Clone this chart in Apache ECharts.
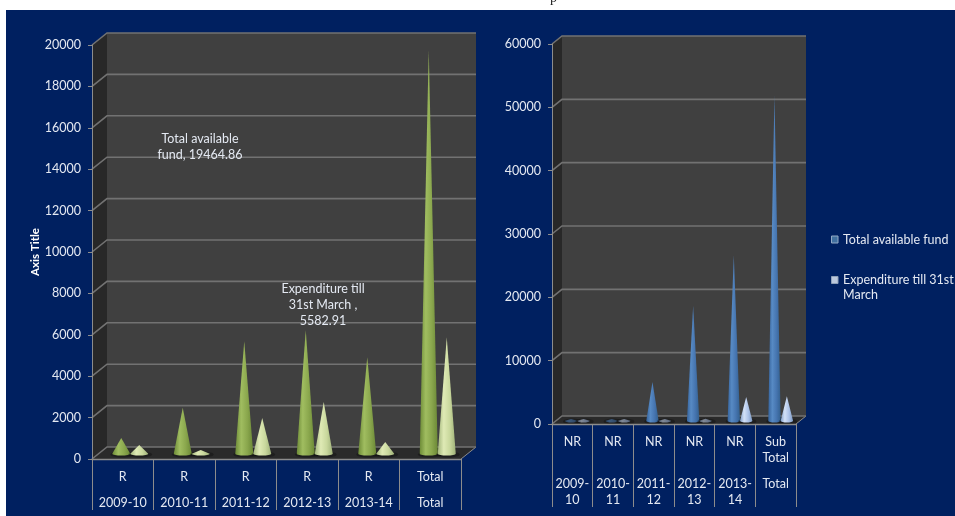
<!DOCTYPE html>
<html>
<head>
<meta charset="utf-8">
<title>Fund availability and expenditure</title>
<script src="https://cdn.jsdelivr.net/npm/echarts@6/dist/echarts.min.js"></script>
<style>
  html, body { margin: 0; padding: 0; background: #ffffff; overflow: hidden; }
  #panel { position: absolute; left: 6px; top: 10px; right: 0; bottom: 0; background: #002060; }
  #chart { position: absolute; left: 0; top: 0; width: 955px; height: 516px; }
</style>
</head>
<body>
<div id="panel"></div>
<div id="chart"></div>
<script>
// Recurring (R) funds
const recurringType = ['R', 'R', 'R', 'R', 'R', 'Total'];
const recurringYears = ['2009-10', '2010-11', '2011-12', '2012-13', '2013-14', 'Total'];
const recurringFund = [720, 2190, 5400, 5930, 4630, 19464.86];
const recurringSpent = [390, 150, 1690, 2460, 530, 5582.91];
const recurringTicks = [0, 2000, 4000, 6000, 8000, 10000, 12000, 14000, 16000, 18000, 20000];

// Non-recurring (NR) funds
const nonRecurringType = ['NR', 'NR', 'NR', 'NR', 'NR', 'Sub\nTotal'];
const nonRecurringYears = ['2009-\n10', '2010-\n11', '2011-\n12', '2012-\n13', '2013-\n14', 'Total'];
const nonRecurringFund = [160, 130, 6000, 18000, 26000, 51200];
const nonRecurringSpent = [60, 60, 70, 180, 3650, 3750];
const nonRecurringTicks = [0, 10000, 20000, 30000, 40000, 50000, 60000];

const fundSeriesName = 'Total available fund';
const spentSeriesName = 'Expenditure till 31st\nMarch';
const FONT = 'Lato';
const FONT_SIZE = 12.5;
const TEXT = '#e4e9f2';
const GRID_LINE = '#727272';
const AXIS_LINE = '#8c8c8c';

function sideGradient(stops) {
  return new echarts.graphic.LinearGradient(0, 0, 1, 0,
    stops.map((c, i) => ({ offset: i / (stops.length - 1), color: c })));
}

const palettes = {
  fundGreen: ['#6d8b37', '#a0bd60', '#8aa74d', '#6b8836'],
  spentGreen: ['#a3b67c', '#dfeab5', '#c9d89d', '#9fb179'],
  fundBlue: ['#35639c', '#578ac4', '#4675b0', '#33608f'],
  spentBlue: ['#7f9cc6', '#d3e1f7', '#adc3e8', '#7c99c2']
};

// Back wall, side wall and floor of the 3-D plot box.
function wallSeries(xAxisIndex, yAxisIndex, depth) {
  return {
    type: 'custom', xAxisIndex, yAxisIndex, z: 1, silent: true,
    data: [[0, 0]],
    renderItem(params) {
      const c = params.coordSys;
      const [dx, dy] = depth;
      const x0 = c.x, x1 = c.x + c.width, y0 = c.y, y1 = c.y + c.height;
      return {
        type: 'group',
        children: [
          { type: 'polygon', shape: { points: [[x0 + dx, y0 - dy], [x1 + dx, y0 - dy], [x1 + dx, y1 - dy], [x0 + dx, y1 - dy]] }, style: { fill: '#404040' } },
          { type: 'polygon', shape: { points: [[x0, y0], [x0 + dx, y0 - dy], [x0 + dx, y1 - dy], [x0, y1]] }, style: { fill: '#282828' } },
          { type: 'polygon', shape: { points: [[x0, y1], [x0 + dx, y1 - dy], [x1 + dx, y1 - dy], [x1, y1]] }, style: { fill: '#2a2a2a' } },
          { type: 'line', shape: { x1: x1, y1: y1, x2: x1 + dx, y2: y1 - dy }, style: { stroke: AXIS_LINE, lineWidth: 1 } }
        ]
      };
    }
  };
}

// One gridline per tick, folding from the front axis onto the back wall.
function gridLineSeries(xAxisIndex, yAxisIndex, ticks, depth) {
  return {
    type: 'custom', xAxisIndex, yAxisIndex, z: 2, silent: true,
    data: ticks.map(t => [0, t]),
    renderItem(params, api) {
      const c = params.coordSys;
      const y = api.coord([0, api.value(1)])[1];
      const [dx, dy] = depth;
      return {
        type: 'polyline',
        shape: { points: [[c.x, y], [c.x + dx, y - dy], [c.x + c.width + dx, y - dy]] },
        style: { stroke: GRID_LINE, lineWidth: 1.6, fill: null }
      };
    }
  };
}

// Cone marks, seated mid-way into the depth of the floor.
function coneSeries(name, xAxisIndex, yAxisIndex, values, palette, depth, side, baseRadius, axisMax) {
  const stops = palettes[palette];
  return {
    type: 'custom', name, xAxisIndex, yAxisIndex, z: 5, silent: true,
    encode: { x: 0, y: 1 },
    itemStyle: { color: stops[1] },
    data: values.map((v, i) => [i, v]),
    renderItem(params, api) {
      const v = api.value(1);
      const tip = api.coord([api.value(0), v]);
      const base = api.coord([api.value(0), 0]);
      const cx = base[0] + depth[0] / 2 + side;
      const by = base[1] - depth[1] / 2 + 0.8;
      const ty = tip[1] - depth[1] / 2;
      const rx = baseRadius, ry = Math.max(1.8, baseRadius * 0.16);
      const cone = 'M' + (cx - rx) + ' ' + by + ' L' + cx + ' ' + Math.min(ty, by - ry) + ' L' + (cx + rx) + ' ' + by +
        ' A' + rx + ' ' + ry + ' 0 0 1 ' + (cx - rx) + ' ' + by + ' Z';
      const faint = v < axisMax * 0.006;
      return {
        type: 'group',
        children: [
          { type: 'ellipse', shape: { cx: cx + 1, cy: by + 0.6, rx: rx + 3, ry: ry + 1.2 }, style: { fill: 'rgba(0,0,0,0.28)' } },
          { type: 'path', shape: { pathData: cone }, style: { fill: sideGradient(stops), opacity: faint ? 0.55 : 1 } }
        ]
      };
    }
  };
}

function categoryAxes(gridIndex, types, years, tickLength, firstMargin, secondMargin) {
  const label = { color: TEXT, fontFamily: FONT, fontSize: FONT_SIZE, lineHeight: 16, interval: 0 };
  return [
    {
      type: 'category', gridIndex, position: 'bottom', data: types, boundaryGap: true, z: 10,
      axisLine: { show: true, lineStyle: { color: AXIS_LINE, width: 1.4 } },
      axisTick: { show: true, length: tickLength, lineStyle: { color: AXIS_LINE, width: 1 } },
      axisLabel: Object.assign({ margin: firstMargin }, label)
    },
    {
      type: 'category', gridIndex, position: 'bottom', data: years, boundaryGap: true, z: 10,
      axisLine: { show: false }, axisTick: { show: false },
      axisLabel: Object.assign({ margin: secondMargin }, label)
    }
  ];
}

function valueAxis(gridIndex, ticks, extra) {
  return Object.assign({
    type: 'value', gridIndex, min: ticks[0], max: ticks[ticks.length - 1], interval: ticks[1] - ticks[0], z: 10,
    axisLine: { show: true, lineStyle: { color: AXIS_LINE, width: 1 } },
    axisTick: { show: true, length: 4, lineStyle: { color: AXIS_LINE } },
    axisLabel: { color: TEXT, fontFamily: FONT, fontSize: FONT_SIZE, margin: 11, formatter: v => String(v) },
    splitLine: { show: false }
  }, extra);
}

const leftDepth = [15, 12];
const rightDepth = [10, 8];

const option = {
  animation: false,
  grid: [
    { left: 92, top: 45, width: 369, height: 414, outerBoundsMode: 'none' },
    { left: 552, top: 44, width: 244, height: 380, outerBoundsMode: 'none' }
  ],
  xAxis: [
    ...categoryAxes(0, recurringType, recurringYears, 51, 10, 36),
    ...categoryAxes(1, nonRecurringType, nonRecurringYears, 83, 10, 52)
  ],
  yAxis: [
    valueAxis(0, recurringTicks, {
      name: 'Axis Title', nameLocation: 'middle', nameGap: 51, nameRotate: 90,
      nameTextStyle: { color: '#ffffff', fontFamily: FONT, fontSize: 11.5, fontWeight: 'bold' }
    }),
    valueAxis(1, nonRecurringTicks, {})
  ],
  legend: {
    orient: 'vertical', left: 831, top: 232, padding: 0, itemWidth: 6.5, itemHeight: 7, itemGap: 10.5,
    icon: 'rect', selectedMode: false,
    textStyle: { color: TEXT, fontFamily: FONT, fontSize: FONT_SIZE, lineHeight: 15 },
    formatter: name => (name.includes('\n') ? '\n' + name : name),
    data: [
      { name: fundSeriesName, itemStyle: { color: '#41709f', borderColor: '#93a9c4', borderWidth: 1 } },
      { name: spentSeriesName, itemStyle: { color: '#bcc8dc', borderColor: '#8ea0b8', borderWidth: 1 } }
    ]
  },
  graphic: [
    { type: 'text', left: 550, top: -9, silent: true, style: { text: 'p', fill: '#222222', font: '14px "Liberation Serif"' } },
    { type: 'text', x: 200, y: 131, silent: true, z: 20, style: { text: 'Total available\nfund, ' + recurringFund[5], fill: TEXT, font: FONT_SIZE + 'px ' + FONT, lineHeight: 16, align: 'center' } },
    { type: 'text', x: 323, y: 281, silent: true, z: 20, style: { text: 'Expenditure till\n31st March ,\n' + recurringSpent[5], fill: TEXT, font: FONT_SIZE + 'px ' + FONT, lineHeight: 16, align: 'center' } }
  ],
  series: [
    wallSeries(0, 0, leftDepth),
    gridLineSeries(0, 0, recurringTicks, leftDepth),
    coneSeries('Total available fund (recurring)', 0, 0, recurringFund, 'fundGreen', leftDepth, -9, 9, 20000),
    coneSeries('Expenditure (recurring)', 0, 0, recurringSpent, 'spentGreen', leftDepth, 9, 9, 20000),
    wallSeries(2, 1, rightDepth),
    gridLineSeries(2, 1, nonRecurringTicks, rightDepth),
    coneSeries(fundSeriesName, 2, 1, nonRecurringFund, 'fundBlue', rightDepth, -6.2, 6.2, 60000),
    coneSeries(spentSeriesName, 2, 1, nonRecurringSpent, 'spentBlue', rightDepth, 6.2, 6.2, 60000)
  ]
};

echarts.init(document.getElementById('chart')).setOption(option);
</script>
</body>
</html>
